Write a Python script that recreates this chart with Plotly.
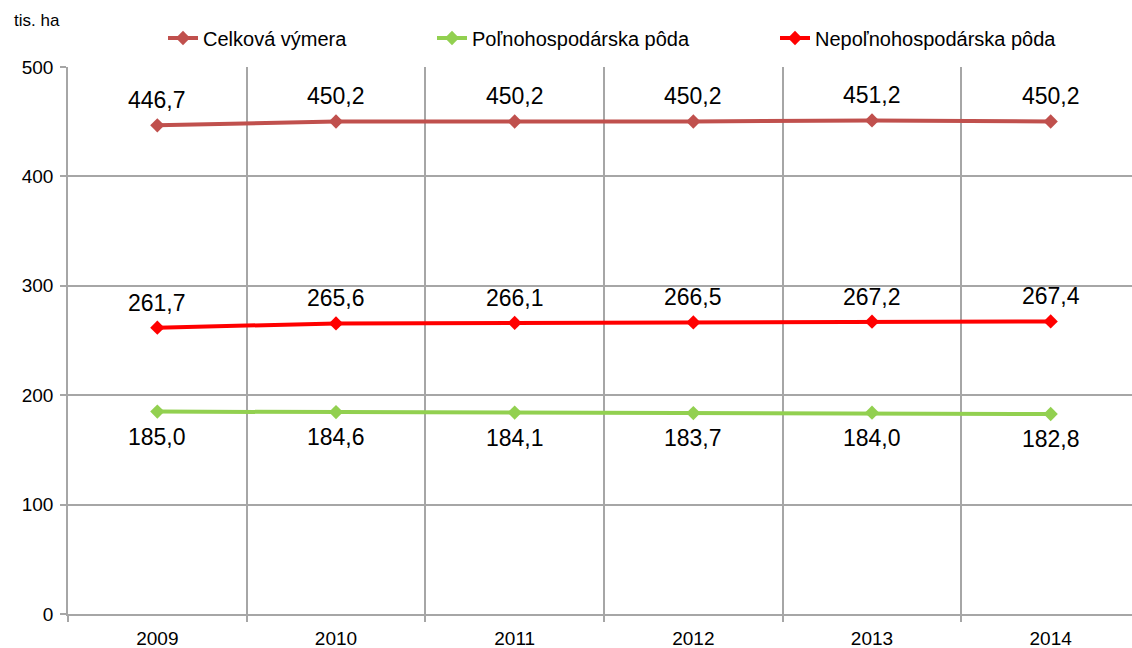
import plotly.graph_objects as go

years = ["2009", "2010", "2011", "2012", "2013", "2014"]
celkova = [446.7, 450.2, 450.2, 450.2, 451.2, 450.2]
polnohosp = [185.0, 184.6, 184.1, 183.7, 184.0, 182.8]
nepolnohosp = [261.7, 265.6, 266.1, 266.5, 267.2, 267.4]

names = ["Celková výmera", "Poľnohospodárska pôda", "Nepoľnohospodárska pôda"]
colors = ["#C0504D", "#92D050", "#FF0000"]
series = [celkova, polnohosp, nepolnohosp]
label_shift = [25, -25, 25]
legends = ["legend", "legend2", "legend3"]
legend_x = [163, 432, 775]

W, H = 1132, 648
fig = go.Figure()
for name, col, vals, lg in zip(names, colors, series, legends):
    fig.add_trace(go.Scatter(
        x=years, y=vals, name=name, mode="lines+markers",
        line=dict(color=col, width=4),
        marker=dict(symbol="diamond", size=11, color=col),
        legend=lg,
    ))

annotations = []
for vals, sh in zip(series, label_shift):
    for i, v in enumerate(vals):
        annotations.append(dict(
            x=i, y=v, xref="x", yref="y", text=f"{v:.1f}".replace(".", ","),
            showarrow=False, yshift=sh, font=dict(size=23, color="#000000",
                                                    family="Liberation Sans, Arial")))

annotations.append(dict(
    x=(12 - 68) / (W - 68), y=(614 - 20) / 547, xref="paper", yref="paper",
    xanchor="left", yanchor="middle", text="tis. ha", showarrow=False,
    font=dict(size=17, color="#000000", family="Liberation Sans, Arial")))

leg_common = dict(orientation="h", yref="container", xref="container",
                  xanchor="left", yanchor="middle", y=1 - 38 / H,
                  bgcolor="rgba(0,0,0,0)",
                  font=dict(size=20, color="#000000", family="Liberation Sans, Arial"))

fig.update_layout(
    width=W, height=H,
    margin=dict(l=68, r=0, t=67, b=34, autoexpand=False),
    paper_bgcolor="white", plot_bgcolor="white",
    separators=", ",
    showlegend=True,
    legend=dict(x=legend_x[0] / W, **leg_common),
    legend2=dict(x=legend_x[1] / W, **leg_common),
    legend3=dict(x=legend_x[2] / W, **leg_common),
    annotations=annotations,
    font=dict(family="Liberation Sans, Arial", color="#000000"),
)
fig.update_xaxes(
    type="category", tickson="boundaries", range=[-0.5, 5.5 - 8 / 178.6],
    showgrid=True, gridcolor="#A6A6A6", gridwidth=1.5,
    showline=True, linecolor="#A6A6A6", linewidth=1.5,
    ticks="outside", ticklen=6, tickcolor="#A6A6A6", tickwidth=1.5,
    tickfont=dict(size=19, color="#000000"), zeroline=False,
    ticklabelstandoff=6,
)
fig.update_yaxes(
    range=[0, 500], dtick=100, tick0=0,
    showgrid=True, gridcolor="#A6A6A6", gridwidth=1.5,
    showline=True, linecolor="#A6A6A6", linewidth=1.5,
    ticks="outside", ticklen=6, tickcolor="#A6A6A6", tickwidth=1.5,
    tickfont=dict(size=19, color="#000000"), zeroline=False,
    ticklabelstandoff=3,
)
fig.write_html("out.html", config={"displayModeBar": False},
               post_script="document.body.style.margin='0px';document.body.style.overflow='hidden';")
